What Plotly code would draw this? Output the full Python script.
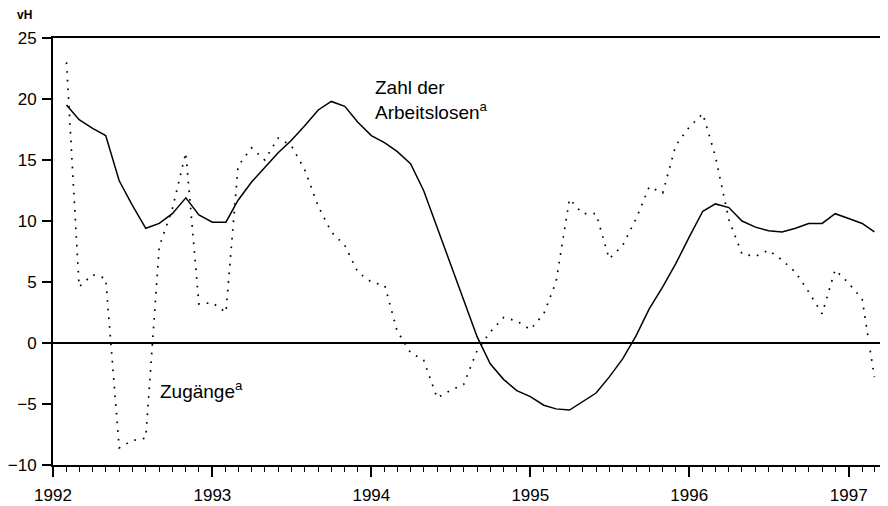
import plotly.graph_objects as go
import pandas as pd

# Monthly observations, Feb 1992 .. Mar 1997
months = pd.date_range("1992-02-01", "1997-03-01", freq="MS").strftime("%Y-%m-%d").tolist()

arbeitslose = [19.5, 18.3, 17.6, 17.0, 13.3, 11.3, 9.4, 9.8, 10.6, 11.9, 10.5,
               9.9, 9.9, 11.7, 13.2, 14.4, 15.6, 16.6, 17.8, 19.1, 19.8, 19.4, 18.1,
               17.0, 16.4, 15.7, 14.7, 12.5, 9.5, 6.5, 3.5, 0.5, -1.7, -3.0, -3.9,
               -4.4, -5.1, -5.4, -5.5, -4.8, -4.1, -2.8, -1.3, 0.6, 2.8, 4.6, 6.5,
               8.7, 10.8, 11.4, 11.1, 10.0, 9.5, 9.2, 9.1, 9.4, 9.8, 9.8, 10.6,
               10.2, 9.8, 9.1]

zugaenge = [23.0, 4.6, 5.6, 5.3, -8.6, -8.0, -7.8, 7.9, 11.0, 15.6, 3.2,
            3.3, 2.5, 14.5, 16.0, 15.0, 16.8, 16.2, 14.2, 11.2, 9.1, 8.0, 5.8,
            5.0, 4.7, 1.0, -0.8, -1.4, -4.5, -3.9, -3.4, -0.6, 0.9, 2.1, 1.8,
            1.1, 2.4, 5.0, 11.8, 10.6, 10.6, 6.9, 8.0, 10.2, 12.8, 12.3, 16.2,
            17.7, 18.8, 15.3, 10.1, 7.3, 7.1, 7.6, 6.8, 5.8, 4.2, 2.4, 6.0,
            4.9, 3.6, -2.8]

y_ticks = [-10, -5, 0, 5, 10, 15, 20, 25]
x_tick_labels = ["1992", "1993", "1994", "1995", "1996", "1997"]
x_tick_vals = [f"{y}-01-01" for y in x_tick_labels]

FONT = "Liberation Sans, Arial, sans-serif"

fig = go.Figure()
fig.add_trace(go.Scatter(x=months, y=zugaenge, mode="lines",
                         line=dict(color="black", width=1.7, dash="1.7px,7px"),
                         showlegend=False, hoverinfo="skip"))
fig.add_trace(go.Scatter(x=months, y=arbeitslose, mode="lines",
                         line=dict(color="black", width=1.5),
                         showlegend=False, hoverinfo="skip"))

fig.update_layout(
    width=880, height=498,
    margin=dict(l=45, r=1, t=30, b=41),
    paper_bgcolor="white", plot_bgcolor="white",
    font=dict(family=FONT, size=17, color="black"),
    showlegend=False,
)

fig.update_xaxes(
    type="date",
    automargin=False,
    range=["1992-01-01", "1997-03-30"],
    tickvals=x_tick_vals, ticktext=x_tick_labels,
    ticks="outside", ticklen=10, tickwidth=1.5, tickcolor="black",
    ticklabelstandoff=4,
    minor=dict(dtick="M1", tick0="1992-01-01", ticks="outside", ticklen=5,
               tickwidth=1.2, tickcolor="black", showgrid=False),
    showgrid=False, zeroline=False,
    showline=True, linecolor="black", linewidth=2, mirror=True,
    tickfont=dict(family=FONT, size=17, color="black"),
)
fig.update_yaxes(
    automargin=False,
    range=[-10, 25],
    tickvals=y_ticks,
    ticks="outside", ticklen=9, tickwidth=1.5, tickcolor="black",
    ticklabelstandoff=2,
    showgrid=False,
    zeroline=True, zerolinecolor="black", zerolinewidth=1.5,
    showline=True, linecolor="black", linewidth=2, mirror=True,
    tickfont=dict(family=FONT, size=17, color="black"),
)

fig.add_annotation(x=-0.046, y=1.054, xref="paper", yref="paper",
                   text="<b>vH</b>", showarrow=False, xanchor="left", yanchor="middle",
                   font=dict(family=FONT, size=12, color="black"))
fig.add_annotation(x="1994-01-05", y=19.9, xref="x", yref="y",
                   text="Zahl der<br>Arbeitslosen<sup>a</sup>", showarrow=False,
                   xanchor="left", yanchor="middle", align="left",
                   font=dict(family=FONT, size=19, color="black"))
fig.add_annotation(x="1992-08-30", y=-3.85, xref="x", yref="y",
                   text="Zugänge<sup>a</sup>", showarrow=False,
                   xanchor="left", yanchor="middle",
                   font=dict(family=FONT, size=19, color="black"))

fig.write_html("out.html")
